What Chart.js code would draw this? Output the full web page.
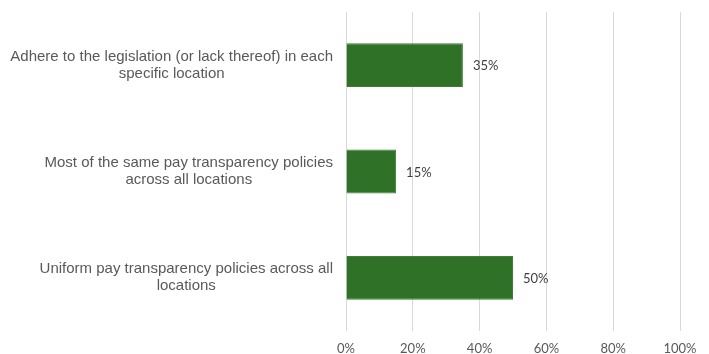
<!DOCTYPE html>
<html>
<head>
<meta charset="utf-8">
<script src="https://cdn.jsdelivr.net/npm/chart.js@4/dist/chart.umd.min.js"></script>
<style>
  html, body { margin: 0; padding: 0; background: #ffffff; }
  #wrap { width: 709px; height: 354px; position: relative; }
</style>
</head>
<body>
<div id="wrap"><canvas id="chart"></canvas></div>
<script>
// Approaches to pay transparency across locations (share of respondents, %)
const categories = [
  ["Adhere to the legislation (or lack thereof) in each", "specific location"],
  ["Most of the same pay transparency policies", "across all locations"],
  ["Uniform pay transparency policies across all", "locations"]
];
const shares = [35, 15, 50];
const tickValues = [0, 20, 40, 60, 80, 100];

const barColor = '#2E7127';
const gridColor = '#D9D9D9';

// Percent labels at the end of each bar
const valueLabels = {
  id: 'valueLabels',
  afterDatasetsDraw(chart) {
    const ctx = chart.ctx;
    const meta = chart.getDatasetMeta(0);
    ctx.save();
    ctx.font = '13px Lato, "Open Sans", sans-serif';
    ctx.fillStyle = '#404040';
    ctx.textAlign = 'left';
    ctx.textBaseline = 'middle';
    meta.data.forEach((bar, i) => {
      ctx.fillText(shares[i] + '%', bar.x + 10, bar.y + 1);
    });
    ctx.restore();
  }
};

// Multi-line category labels, each block centred on itself and right-aligned to the axis
const categoryLabels = {
  id: 'categoryLabels',
  afterDraw(chart) {
    const ctx = chart.ctx;
    const y = chart.scales.y;
    const lineH = 17;
    ctx.save();
    ctx.font = '15px "Liberation Sans", Arial, sans-serif';
    ctx.fillStyle = '#595959';
    ctx.textAlign = 'center';
    ctx.textBaseline = 'middle';
    categories.forEach((lines, i) => {
      const cy = y.getPixelForTick(i);
      const maxW = Math.max(...lines.map(l => ctx.measureText(l).width));
      const cx = y.right - 13 - maxW / 2;
      const top = cy - (lines.length - 1) * lineH / 2;
      lines.forEach((l, k) => ctx.fillText(l, cx, top + k * lineH));
    });
    ctx.restore();
  }
};

new Chart(document.getElementById('chart'), {
  type: 'bar',
  data: {
    labels: categories,
    datasets: [{
      data: shares,
      backgroundColor: barColor,
      borderColor: '#3C7F34',
      borderWidth: 1,
      barPercentage: 0.413,
      categoryPercentage: 1.0
    }]
  },
  options: {
    indexAxis: 'y',
    responsive: true,
    maintainAspectRatio: false,
    animation: false,
    layout: { padding: { top: 12, right: 29, bottom: 0, left: 0 } },
    plugins: { legend: { display: false }, tooltip: { enabled: false } },
    scales: {
      x: {
        min: 0,
        max: 100,
        afterBuildTicks(scale) {
          scale.ticks = tickValues.map(v => ({ value: v }));
        },
        afterFit(scale) { scale.height = 23; },
        ticks: {
          callback: v => v + '%',
          color: '#595959',
          font: { family: 'Lato, "Open Sans", sans-serif', size: 13 },
          padding: 10,
          maxRotation: 0
        },
        grid: { color: gridColor, lineWidth: 1, drawTicks: false },
        border: { display: false }
      },
      y: {
        afterFit(scale) { scale.width = 346; },
        ticks: { display: false },
        grid: { display: false },
        border: { display: false }
      }
    }
  },
  plugins: [valueLabels, categoryLabels]
});
</script>
</body>
</html>
